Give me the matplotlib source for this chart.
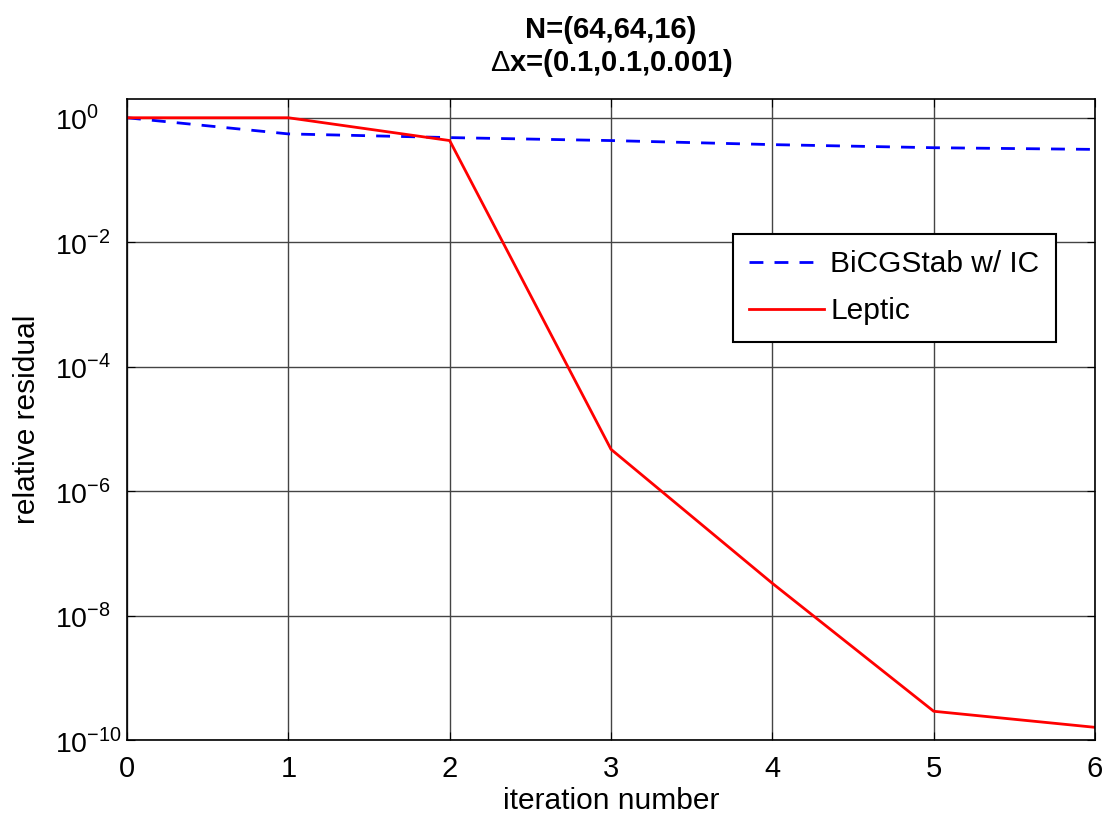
import matplotlib
matplotlib.use("Agg")
import matplotlib.pyplot as plt

plt.rcParams['font.family'] = ['Liberation Sans', 'DejaVu Sans']
plt.rcParams['mathtext.fontset'] = 'custom'
plt.rcParams['mathtext.rm'] = 'Liberation Sans'

# iteration numbers and residual values
iters = [0, 1, 2, 3, 4, 5, 6]
bicgstab = [1.0, 0.55, 0.48, 0.43, 0.37, 0.33, 0.31]
leptic = [1.0, 1.0, 0.43, 4.7e-6, 3.3e-8, 2.9e-10, 1.6e-10]
ytick_exp = [0, -2, -4, -6, -8, -10]

fig = plt.figure(figsize=(11.07, 8.17), dpi=100)
ax = fig.add_axes([0.1147, 0.0942, 0.8745, 0.7846])

ax.semilogy(iters, bicgstab, color='blue', linestyle=(0, (5, 4)), linewidth=2, label='BiCGStab w/ IC')
ax.semilogy(iters, leptic, color='red', linestyle='-', linewidth=2, label='Leptic')

ax.set_xlim(0, 6)
ax.set_ylim(1e-10, 2)
ax.set_xticks(iters)
ax.set_yticks([10.0 ** e for e in ytick_exp])
ax.set_yticklabels([r'$10^{%d}$' % e for e in ytick_exp], ha='left')
ax.minorticks_off()
ax.tick_params(direction='in', length=6, labelsize=21, top=True, right=True)
ax.tick_params(axis='x', pad=11)
ax.tick_params(axis='y', pad=52, labelsize=20.5)
ax.grid(True, color='#444444', linewidth=1, linestyle='-')
for s in ax.spines.values():
    s.set_linewidth(1.2)

ax.set_xlabel('iteration number', fontsize=21.5, labelpad=3)
ax.set_ylabel('relative residual', fontsize=21.5, labelpad=10)
ax.set_title('N=(64,64,16)\n$\\Delta$x=(0.1,0.1,0.001)', fontsize=21, fontweight='bold', pad=20,
             linespacing=1.15)

leg = ax.legend(loc='upper left', bbox_to_anchor=(0.626, 0.79), fontsize=21.5, fancybox=False,
                framealpha=1, edgecolor='black', borderpad=0.55, handlelength=2.5, handletextpad=0.2,
                labelspacing=0.65, borderaxespad=0)
leg.get_frame().set_linewidth(1.5)

fig.savefig('out.png', dpi=100)
